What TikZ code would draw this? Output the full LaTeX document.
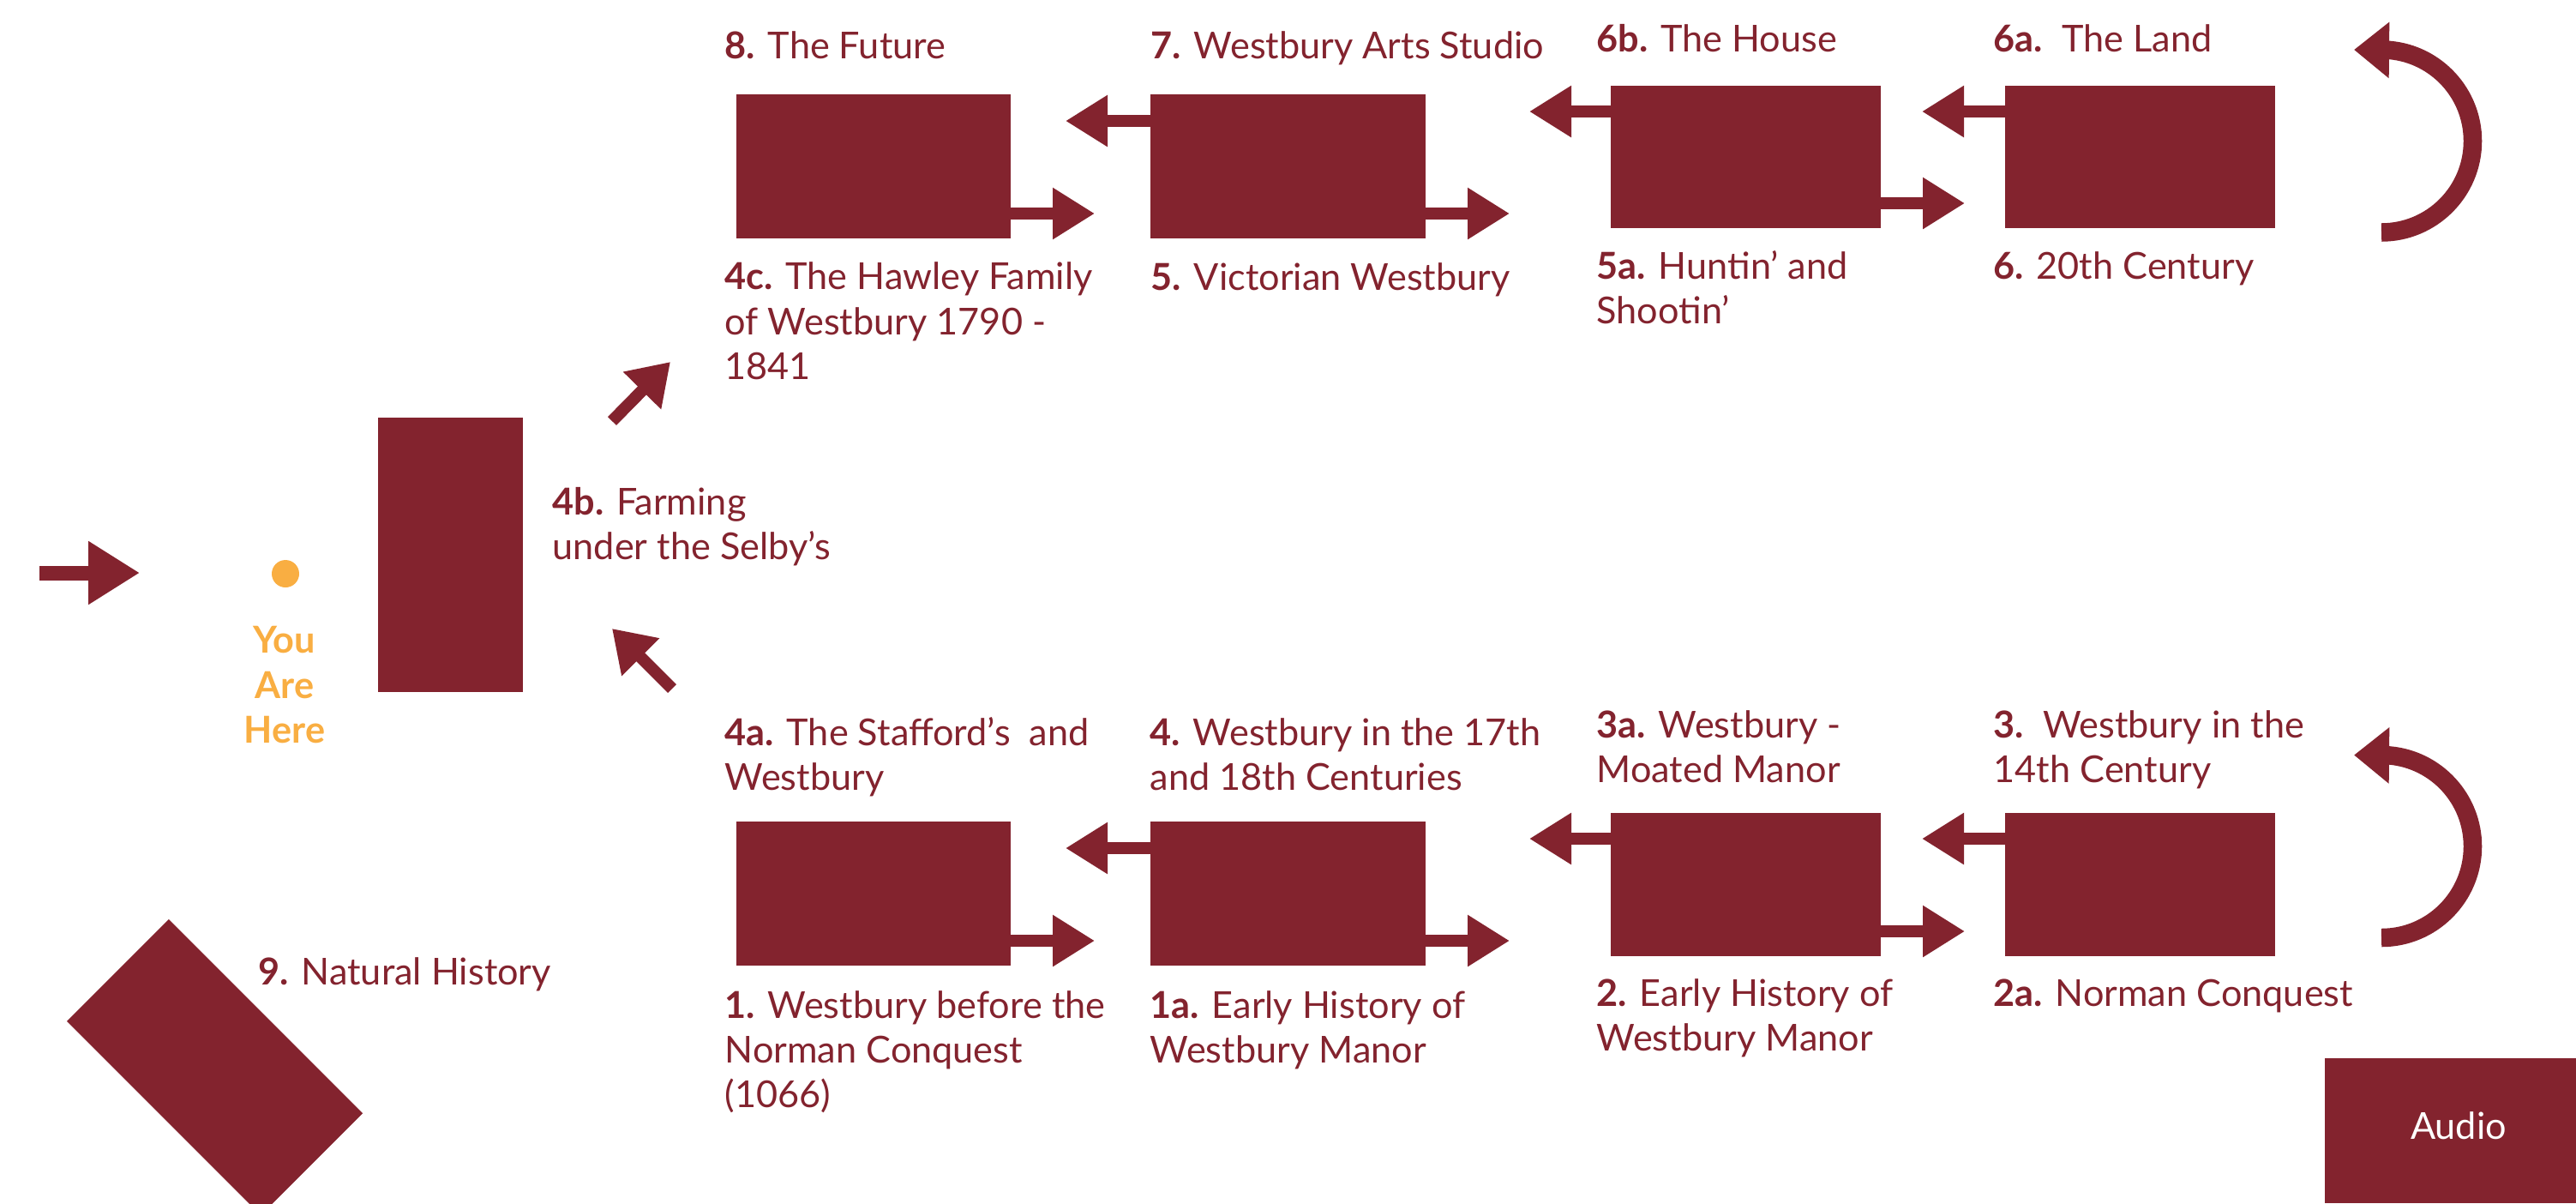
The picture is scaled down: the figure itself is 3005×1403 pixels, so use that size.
\documentclass[tikz,border=0pt]{standalone}
\usepackage{fontspec}
\setmainfont{Lato}
\usetikzlibrary{arrows.meta}
\definecolor{wine}{RGB}{131,35,46}
\definecolor{sun}{RGB}{249,174,66}
\begin{document}
\begin{tikzpicture}[x=0.1mm,y=-0.1mm,
  box/.style={fill=wine, draw=none, inner sep=0pt, outer sep=0pt, anchor=north west},
  lbl/.style={text=wine, anchor=base west, align=left, inner sep=0pt, font=\fontsize{12.3}{14.8}\selectfont},
  stub/.style={draw=wine, line width=1.45mm, -{Triangle[length=4.9mm,width=5.7mm]}},
  diag/.style={draw=wine, line width=1.4mm, -{Triangle[length=4.7mm,width=5.9mm]}},
  turn/.style={draw=wine, line width=2.15mm, -{Triangle[length=4.1mm,width=6.3mm]}},
]
\useasboundingbox (0,0) rectangle (3005,1403);

% boxes top row
\node[box, minimum width=32mm, minimum height=16.8mm] (b8) at (859,110) {};
\node[box, minimum width=32.1mm, minimum height=16.8mm] (b7) at (1342,110) {};
\node[box, minimum width=31.5mm, minimum height=16.6mm] (b6b) at (1879,100) {};
\node[box, minimum width=31.5mm, minimum height=16.6mm] (b6a) at (2339,100) {};
% boxes bottom row
\node[box, minimum width=32mm, minimum height=16.8mm] (b4a) at (859,958) {};
\node[box, minimum width=32.1mm, minimum height=16.8mm] (b4) at (1342,958) {};
\node[box, minimum width=31.5mm, minimum height=16.7mm] (b3a) at (1879,948) {};
\node[box, minimum width=31.5mm, minimum height=16.7mm] (b3) at (2339,948) {};
% tall box
\node[box, minimum width=16.9mm, minimum height=32mm] (b4b) at (441,487) {};
% audio
\node[box, minimum width=29.3mm, minimum height=16.9mm] (audio) at (2712,1234) {};
\node[text=white, anchor=base, inner sep=0pt, font=\fontsize{12.3}{14.8}\selectfont] (audiotxt) at (2868,1328) {Audio};
% rotated box
\node[fill=wine, inner sep=0pt, minimum width=32mm, minimum height=16.8mm, rotate=-45] (b9) at (250.5,1244.5) {};

% you are here
\node[circle, fill=sun, minimum size=3.2mm, inner sep=0pt] (here) at (333,669) {};
\node[text=sun, anchor=base, align=center, inner sep=0pt, font=\fontsize{12.3}{14.8}\selectfont\bfseries] (heretxt) at (332,866) {You\\Are\\Here};

% stubs top
\draw[stub] ([yshift=-3.1mm]b7.north west) -- ++(-99,0);
\draw[stub] ([yshift=2.9mm]b8.south east) -- ++(98,0);
\draw[stub] ([yshift=2.9mm]b7.south east) -- ++(98,0);
\draw[stub] ([yshift=-3.0mm]b6b.north west) -- ++(-95,0);
\draw[stub] ([yshift=-3.0mm]b6a.north west) -- ++(-97,0);
\draw[stub] ([yshift=2.9mm]b6b.south east) -- ++(98,0);
% stubs bottom
\draw[stub] ([yshift=-3.1mm]b4.north west) -- ++(-99,0);
\draw[stub] ([yshift=2.9mm]b4a.south east) -- ++(98,0);
\draw[stub] ([yshift=2.9mm]b4.south east) -- ++(98,0);
\draw[stub] ([yshift=-3.0mm]b3a.north west) -- ++(-95,0);
\draw[stub] ([yshift=-3.0mm]b3.north west) -- ++(-97,0);
\draw[stub] ([yshift=2.9mm]b3a.south east) -- ++(98,0);

% entry arrow
\coordinate (in0) at (46,668);
\coordinate (in1) at (163,668);
\draw[draw=wine, line width=1.7mm, -{Triangle[length=6mm,width=7mm]}] (in0) -- (in1);

% diagonal arrows
\coordinate (d1s) at (714,491);
\coordinate (d1e) at (782,422);
\draw[diag] (d1s) -- (d1e);
\coordinate (d2s) at (784,803);
\coordinate (d2e) at (714,733);
\draw[diag] (d2s) -- (d2e);

% turn-around arrows
\coordinate (t1s) at (2778,271);
\coordinate (t1e) at (2746,58);
\draw[turn] (t1s) arc[start angle=-90, end angle=85, radius=10.65mm] -- (t1e);
\coordinate (t2s) at (2778,1093.5);
\coordinate (t2e) at (2746,880.5);
\draw[turn] (t2s) arc[start angle=-90, end angle=85, radius=10.65mm] -- (t2e);

% labels top (anchor = baseline of last line)
\node[lbl] (l8) at (845,68) {\textbf{8.} The Future};
\node[lbl] (l7) at (1342,68) {\textbf{7.} Westbury Arts Studio};
\node[lbl] (l6b) at (1862,60) {\textbf{6b.} The House};
\node[lbl] (l6a) at (2325,60) {\textbf{6a.}\ \ The Land};
\node[lbl] (l4c) at (845,442) {\textbf{4c.} The Hawley Family\\of Westbury 1790 -\\1841};
\node[lbl] (l5) at (1342,338) {\textbf{5.} Victorian Westbury};
\node[lbl] (l5a) at (1862,377) {\textbf{5a.} Huntin’ and\\Shootin’};
\node[lbl] (l6) at (2325,325) {\textbf{6.} 20th Century};
\node[lbl] (l4b) at (644,652) {\textbf{4b.} Farming\\under the Selby’s};
% labels bottom
\node[lbl] (l4a) at (845,921) {\textbf{4a.} The Stafford’s\ \ and\\Westbury};
\node[lbl] (l4) at (1341,921) {\textbf{4.} Westbury in the 17th\\and 18th Centuries};
\node[lbl] (l3a) at (1862,912) {\textbf{3a.} Westbury -\\Moated Manor};
\node[lbl] (l3) at (2325,912) {\textbf{3.}\ \ Westbury in the\\14th Century};
\node[lbl] (l1) at (845,1291) {\textbf{1.} Westbury before the\\Norman Conquest\\(1066)};
\node[lbl] (l1a) at (1341,1239) {\textbf{1a.} Early History of\\Westbury Manor};
\node[lbl] (l2) at (1862,1225) {\textbf{2.} Early History of\\Westbury Manor};
\node[lbl] (l2a) at (2325,1173) {\textbf{2a.} Norman Conquest};
\node[lbl] (l9) at (301,1148) {\textbf{9.} Natural History};
\end{tikzpicture}
\end{document}
